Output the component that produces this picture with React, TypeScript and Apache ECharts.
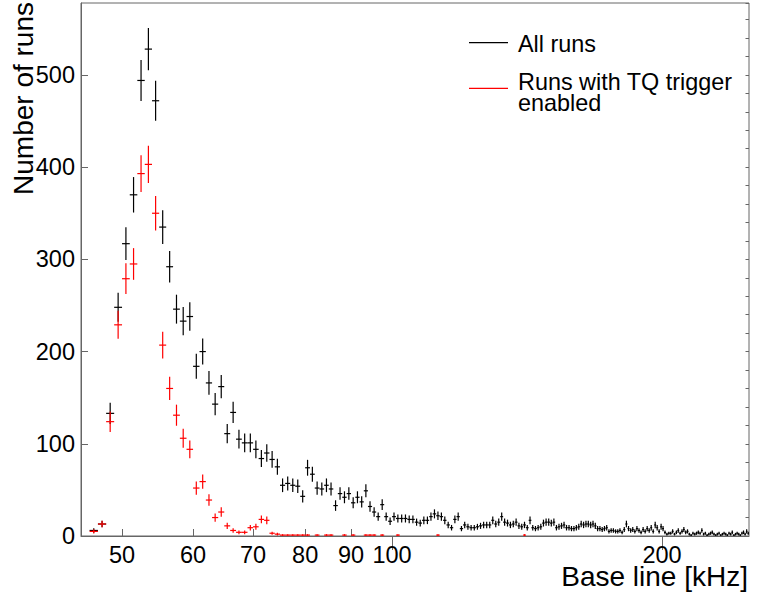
import { useEffect, useRef } from "react";
import * as echarts from "echarts";

// Histogram binning: 1 kHz wide bins starting at 45 kHz
const BIN_LOW = 45;
const BIN_WIDTH = 1;

// Counts per bin, all runs (bin centres 45.5, 46.5, ... 249.5)
const allRuns = [
  0, 6, 13, 133, 248, 317, 370, 494, 528, 472,
  335, 292, 246, 233, 238, 184, 200, 166, 143, 162,
  111, 134, 105, 101, 101, 94, 84, 90, 83, 75,
  55, 57, 55, 54, 43, 74, 67, 52, 51, 55,
  51, 33, 46, 42, 46, 36, 42, 37, 49, 32,
  26, 21, 34, 21, 16, 21, 19, 19, 19, 18,
  18, 15, 14, 17, 17, 21, 24, 22, 21, 17,
  12, 9, 18, 21, 8, 12, 10, 9, 9, 10,
  11, 12, 12, 12, 17, 13, 15, 21, 15, 14,
  12, 13, 15, 11, 10, 12, 9, 17, 9, 8,
  9, 10, 14, 15, 15, 14, 15, 9, 10, 11,
  12, 9, 9, 8, 8, 9, 10, 13, 12, 13,
  13, 12, 13, 11, 8, 8, 7, 8, 9, 5,
  6, 6, 5, 5, 6, 4, 7, 13, 8, 6,
  7, 5, 8, 6, 4, 7, 5, 8, 6, 9,
  5, 12, 9, 5, 10, 8, 4, 2, 3, 3,
  5, 2, 4, 6, 3, 5, 7, 4, 5, 2,
  1, 3, 2, 3, 4, 3, 6, 2, 3, 1,
  2, 3, 4, 2, 1, 2, 3, 1, 2, 3,
  2, 1, 3, 2, 4, 1, 2, 3, 2, 1,
  3, 4, 2, 5, 3,
];

// Counts per bin, runs with the TQ trigger enabled
const tqRuns = [
  0, 5, 13, 124, 229, 279, 295, 393, 403, 350,
  207, 160, 131, 106, 94, 52, 59, 39, 20, 26,
  11, 6, 4, 4, 9, 10, 18, 17, 3, 2,
  1, 1, 1, 1, 1, 1, 0, 1, 0, 1,
  1, 0, 0, 1, 0, 1, 0, 0, 1, 1,
  1, 0, 1, 0, 0, 0, 1, 0, 0, 0,
  0, 0, 0, 0, 0, 0, 0, 1, 0, 0,
  0, 0, 0, 0, 0, 0, 0, 0, 0, 0,
  0, 0, 0, 0, 0, 0, 0, 0, 0, 0,
  0, 0, 0, 0, 0, 1, 0, 0, 0, 0,
  0, 0, 0, 0, 0, 0, 0, 0, 0, 0,
  0, 0, 0, 0, 0, 0, 0, 0, 0, 0,
  0, 0, 0, 0, 0, 0, 0, 0, 0, 0,
  0, 0, 0, 0, 0, 0, 0, 0, 0, 0,
  0, 0, 0, 0, 0, 0, 0, 0, 0, 0,
  0, 0, 0, 0, 0, 0, 0, 0, 0, 0,
  0, 0, 0, 0, 0, 0, 0, 0, 0, 0,
  0, 0, 0, 0, 0, 0, 0, 0, 0, 0,
  0, 0, 0, 0, 0, 0, 0, 0, 0, 0,
  0, 0, 0, 0, 0, 0, 0, 0, 0, 0,
  0, 0, 0, 0, 0,
];

// Axis ticks and labels
const xLabelValues = [50, 60, 70, 80, 90, 100, 200];
const xShortTicks = [50, 60, 70, 80, 90];
const xLongTicks = [100, 200];

const FONT = "'Liberation Sans', Arial, Helvetica, sans-serif";
const AXIS_COLOR = "#666666";

function toPoints(counts: number[]): number[][] {
  return counts
    .map((c, i) => [BIN_LOW + BIN_WIDTH * (i + 0.5), c])
    .filter((p) => p[1] > 0);
}

// Draws a histogram bin as an error cross: horizontal bar over the
// bin width, vertical bar of +/- sqrt(N).
function errorBar(color: string) {
  return (_params: any, api: any) => {
    const x = api.value(0);
    const n = api.value(1);
    const err = Math.sqrt(n);
    const left = api.coord([x - BIN_WIDTH / 2, n]);
    const right = api.coord([x + BIN_WIDTH / 2, n]);
    const top = api.coord([x, n + err]);
    const bottom = api.coord([x, Math.max(n - err, 0)]);
    const style = { stroke: color, lineWidth: 1.2 };
    return {
      type: "group",
      children: [
        { type: "line", shape: { x1: left[0], y1: left[1], x2: right[0], y2: right[1] }, style },
        { type: "line", shape: { x1: top[0], y1: top[1], x2: bottom[0], y2: bottom[1] }, style },
      ],
    };
  };
}

export default function App() {
  const ref = useRef<HTMLDivElement>(null);

  useEffect(() => {
    if (!ref.current) return;
    const chart = echarts.init(ref.current, null, { renderer: "svg" });

    const xBase = {
      type: "log",
      logBase: 10,
      min: 45,
      max: 250,
      splitLine: { show: false },
      minorTick: { show: false },
    };
    const yBase = {
      type: "value",
      min: 0,
      max: 578,
      splitLine: { show: false },
    };

    chart.setOption({
      animation: false,
      backgroundColor: "#ffffff",
      textStyle: { fontFamily: FONT },
      grid: {
        left: 81,
        right: 10,
        top: 3,
        bottom: 61,
        show: true,
        borderColor: AXIS_COLOR,
        borderWidth: 1,
        backgroundColor: "transparent",
      },
      xAxis: [
        {
          ...xBase,
          axisLine: { show: true, lineStyle: { color: AXIS_COLOR, width: 1 } },
          axisTick: {
            show: true,
            inside: true,
            length: 7,
            customValues: xShortTicks,
            lineStyle: { color: AXIS_COLOR, width: 1 },
          },
          axisLabel: {
            show: true,
            customValues: xLabelValues,
            formatter: (v: number) => String(Math.round(v)),
            fontSize: 23.5,
            lineHeight: 20,
            color: "#000",
            fontFamily: FONT,
            margin: 9,
          },
        },
        {
          ...xBase,
          axisLine: { show: false },
          axisTick: {
            show: true,
            inside: true,
            length: 14,
            customValues: xLongTicks,
            lineStyle: { color: AXIS_COLOR, width: 1 },
          },
          axisLabel: { show: false },
        },
      ],
      yAxis: [
        {
          ...yBase,
          interval: 100,
          axisLine: { show: true, lineStyle: { color: AXIS_COLOR, width: 1 } },
          axisTick: { show: true, inside: true, length: 7, lineStyle: { color: AXIS_COLOR, width: 1 } },
          axisLabel: {
            show: true,
            showMaxLabel: false,
            fontSize: 23.5,
            color: "#000",
            fontFamily: FONT,
            margin: 6,
          },
        },
        {
          ...yBase,
          interval: 20,
          axisLine: { show: false },
          axisTick: { show: true, inside: true, length: 3.5, lineStyle: { color: AXIS_COLOR, width: 1 } },
          axisLabel: { show: false },
        },
      ],
      series: [
        {
          name: "All runs",
          type: "custom",
          xAxisIndex: 0,
          yAxisIndex: 0,
          clip: true,
          renderItem: errorBar("#000000"),
          data: toPoints(allRuns),
          z: 2,
        },
        {
          name: "Runs with TQ trigger enabled",
          type: "custom",
          xAxisIndex: 0,
          yAxisIndex: 0,
          clip: true,
          renderItem: errorBar("#ff0000"),
          data: toPoints(tqRuns),
          z: 3,
        },
      ],
      graphic: [
        {
          type: "text",
          x: 23,
          y: 2,
          rotation: Math.PI / 2,
          style: {
            text: "Number of runs",
            font: `28px ${FONT}`,
            fill: "#000",
            align: "right",
            verticalAlign: "middle",
          },
        },
        {
          type: "text",
          x: 748,
          y: 576,
          style: {
            text: "Base line [kHz]",
            font: `28px ${FONT}`,
            lineHeight: 22,
            fill: "#000",
            align: "right",
            verticalAlign: "middle",
          },
        },
        {
          type: "line",
          shape: { x1: 469, y1: 42.7, x2: 508, y2: 42.7 },
          style: { stroke: "#000000", lineWidth: 1.2 },
        },
        {
          type: "text",
          x: 518,
          y: 43.5,
          style: { text: "All runs", font: `23.4px ${FONT}`, fill: "#000", align: "left", verticalAlign: "middle" },
        },
        {
          type: "line",
          shape: { x1: 469, y1: 88.3, x2: 508, y2: 88.3 },
          style: { stroke: "#ff0000", lineWidth: 1.2 },
        },
        {
          type: "text",
          x: 518,
          y: 81.8 - 10.85,
          style: {
            text: "Runs with TQ trigger\nenabled",
            font: `23.4px ${FONT}`,
            lineHeight: 21.7,
            fill: "#000",
            align: "left",
            verticalAlign: "top",
          },
        },
      ],
    });

    return () => chart.dispose();
  }, []);

  return (
    <div
      ref={ref}
      style={{ position: "fixed", left: 0, top: 0, width: 759, height: 597, background: "#fff" }}
    />
  );
}
